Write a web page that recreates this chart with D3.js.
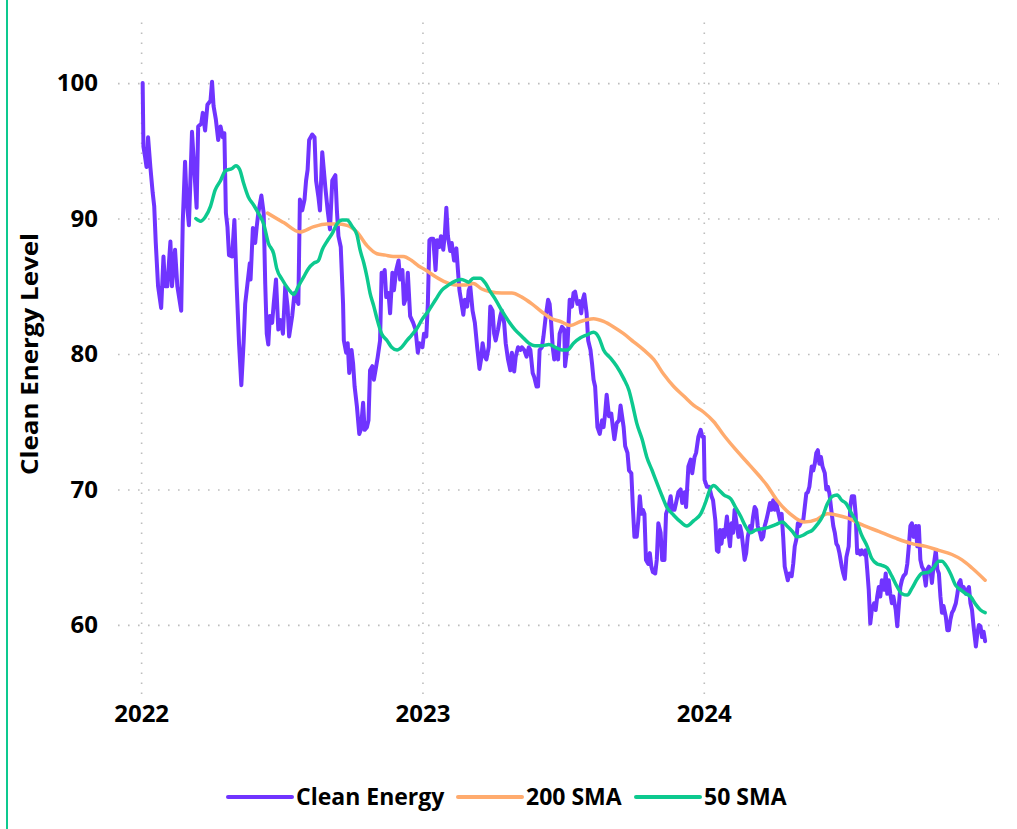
<!DOCTYPE html>
<html>
<head>
<meta charset="utf-8">
<script src="https://cdn.jsdelivr.net/npm/d3@7"></script>
<style>
  html, body { margin: 0; padding: 0; background: #ffffff; }
  svg { display: block; }
  text { font-family: "Open Sans", "Noto Sans", sans-serif; font-weight: 700; fill: #000; }
</style>
</head>
<body>
<svg id="chart" width="1017" height="829"></svg>
<script>
// ---------- DATA ----------
const startDate = "2022-01-01";
const seriesNames = ["Clean Energy", "200 SMA", "50 SMA"];
const yTicks = [60, 70, 80, 90, 100];
const xTickYears = ["2022", "2023", "2024"];
const yAxisTitle = "Clean Energy Level";

// Clean Energy (days since startDate, level)
const cleanDays = [2,3,5,7,9,12,15,17,19,22,26,29,31,34,38,40,44,47,52,54,57,59,62,66,69,72,74,78,80,83,86,90,92,94,97,100,103,106,108,110,112,114,118,121,124,127,130,133,135,138,141,142,145,148,150,152,156,159,161,163,165,167,170,172,175,178,181,184,187,190,192,196,199,202,204,206,209,212,214,216,218,222,225,227,230,232,235,237,239,242,245,248,252,254,256,259,262,263,266,268,270,273,275,277,280,283,285,288,290,293,295,297,300,302,305,307,310,312,314,316,318,321,323,326,328,331,334,336,339,341,344,346,349,353,356,359,361,365,367,370,372,374,376,379,382,384,387,389,392,394,396,398,401,403,406,409,411,413,415,418,420,423,425,427,430,433,436,439,441,443,446,448,451,453,456,458,460,463,466,468,471,473,476,479,481,484,486,489,492,494,497,500,503,505,508,510,513,515,517,520,522,525,528,530,532,534,536,538,541,543,546,549,550,553,556,559,561,563,566,569,571,573,575,578,580,583,585,587,589,592,595,598,600,602,604,607,610,612,614,617,620,622,624,626,628,631,633,636,638,640,643,645,647,649,651,653,655,658,660,662,664,667,669,671,674,676,679,681,684,687,689,692,694,697,700,702,705,707,710,713,715,718,720,723,726,728,730,731,734,737,740,742,745,747,749,751,753,755,757,760,762,764,766,768,770,772,775,777,779,781,783,785,787,790,792,794,796,798,800,803,805,807,809,811,813,816,818,820,822,824,826,829,831,833,835,837,839,841,844,846,848,850,852,854,857,859,861,863,865,867,870,872,874,876,878,880,882,884,887,889,891,893,896,898,900,902,904,906,909,911,913,915,918,920,922,925,927,929,931,933,935,938,940,942,944,946,948,951,953,955,957,959,961,964,966,968,970,972,974,976,979,981,983,985,987,989,992,994,996,998,1000,1002,1005,1007,1009,1011,1013,1015,1018,1020,1022,1024,1026,1028,1031,1033,1035,1037,1039,1041,1044,1046,1048,1050,1052,1054,1057,1059,1061,1063,1065,1067,1070,1072,1074,1076,1078,1080,1083,1085,1087,1089,1091,1093,1095];
const cleanValues = [100.0,95.3,94.6,93.8,96.0,93.8,91.9,90.9,88.2,85.0,83.4,87.2,85.0,85.0,88.3,85.0,87.7,85.0,83.2,89.7,94.2,91.4,89.5,96.4,93.6,90.8,96.8,97.0,97.8,96.5,98.4,98.7,100.1,98.3,97.3,95.8,96.8,96.0,96.3,90.4,89.4,87.3,87.2,89.9,85.0,80.8,77.7,80.9,83.7,85.2,86.7,85.5,89.3,88.2,89.4,90.4,91.7,90.4,85.2,81.5,80.7,82.8,82.3,83.7,85.5,81.8,82.5,81.5,85.0,83.5,81.3,82.8,84.5,84.0,83.7,91.4,90.6,91.4,92.8,93.6,95.8,96.2,96.0,92.8,91.6,90.6,94.9,93.6,92.3,90.6,89.2,92.8,93.2,90.6,88.7,87.9,83.7,81.0,80.1,80.8,78.6,80.3,79.3,77.6,76.1,74.1,74.4,76.4,74.4,74.6,75.1,78.8,79.1,78.1,79.1,79.8,81.0,86.0,85.7,86.2,84.2,84.5,83.0,86.0,84.7,86.2,86.9,85.5,86.2,83.7,84.2,86.0,82.8,82.3,81.8,80.1,80.8,80.5,81.5,81.3,83.7,88.4,88.5,88.5,86.2,88.4,87.9,88.7,87.7,88.8,90.8,88.7,87.6,88.2,86.9,87.8,86.2,84.7,84.0,82.9,84.0,83.5,84.7,85.0,83.2,82.3,80.5,78.9,79.6,80.8,79.8,79.6,80.5,83.5,83.2,81.5,81.0,81.8,82.8,83.2,82.3,80.8,79.6,78.8,80.1,78.7,79.8,80.5,80.3,80.5,80.3,79.8,80.5,80.3,78.6,78.3,77.6,77.6,80.3,80.5,81.3,82.8,84.0,83.7,82.3,80.5,79.6,80.3,79.6,81.5,82.0,81.8,79.1,80.5,84.0,83.5,84.5,84.6,83.7,83.9,83.0,84.0,84.4,83.0,81.0,80.3,79.3,78.1,77.6,74.6,74.1,75.1,74.6,75.6,77.0,75.4,75.6,74.6,73.7,74.9,75.1,76.2,75.4,74.6,73.2,72.7,71.4,71.2,68.7,66.5,66.5,67.7,69.5,68.2,68.5,68.2,64.8,64.5,65.3,64.3,63.9,63.8,64.8,67.5,66.8,64.8,64.8,68.2,68.7,69.5,68.5,68.5,69.0,69.8,70.0,69.0,69.8,68.7,71.7,72.2,71.2,72.4,72.7,73.9,74.4,73.9,73.9,70.7,70.2,70.2,69.5,69.2,67.7,65.5,65.4,67.0,66.0,67.0,66.5,68.0,66.8,65.8,67.5,66.8,68.5,67.7,66.5,67.3,66.8,65.8,64.8,65.3,66.5,67.3,67.0,68.0,68.7,68.5,67.3,66.8,66.3,66.5,67.3,67.7,68.2,69.0,68.5,69.2,68.5,69.0,68.5,67.7,68.2,66.5,64.3,63.8,63.3,63.8,63.6,64.5,65.8,66.3,67.5,67.3,67.7,67.7,68.7,69.7,69.8,70.2,71.7,71.4,71.9,72.7,72.9,71.9,72.4,71.7,71.2,70.0,70.2,69.7,68.2,67.3,66.8,66.0,65.8,65.3,64.3,63.8,63.4,65.0,65.8,68.7,69.5,69.5,68.2,65.3,65.5,65.2,65.5,65.2,65.5,64.1,62.6,60.1,61.1,61.6,61.1,62.1,62.8,62.1,63.3,62.6,63.8,62.3,63.3,62.3,61.6,62.1,61.1,59.9,61.4,62.8,63.3,63.6,63.8,64.5,65.8,67.3,67.5,66.5,67.3,65.8,67.3,64.8,64.3,64.1,62.9,64.1,64.3,64.1,63.1,64.3,65.5,64.1,63.8,62.1,60.9,61.4,60.6,59.6,59.6,60.4,60.9,61.1,61.6,62.3,63.1,63.3,62.6,62.8,62.3,62.6,62.8,61.6,61.1,59.9,58.4,59.4,60.0,59.9,59.1,59.5,58.8];

// 200-day simple moving average
const sma200Days = [164,185,206,224,241,254,267,280,293,306,317,327,340,351,360,369,382,395,408,421,431,442,453,468,481,494,507,520,533,544,557,570,587,600,613,626,639,652,665,678,691,704,717,730,743,756,769,791,812,825,842,860,877,890,903,916,935,957,979,1000,1018,1035,1052,1065,1078,1095];
const sma200Values = [90.4,89.7,89.0,89.4,89.6,89.6,89.5,89.0,88.0,87.4,87.3,87.2,87.2,86.9,86.5,86.2,85.7,85.3,85.1,85.1,85.2,84.8,84.6,84.5,84.5,84.2,83.7,83.1,82.6,82.4,82.1,82.4,82.6,82.4,82.0,81.5,80.9,80.3,79.6,78.5,77.6,76.9,76.2,75.7,75.0,74.0,73.1,71.7,70.3,69.2,68.2,67.6,67.8,68.2,68.1,67.9,67.4,66.9,66.4,66.0,65.8,65.5,65.2,64.8,64.2,63.3];

// 50-day simple moving average
const sma50Days = [71,77,83,90,96,103,109,118,123,128,133,139,146,152,159,165,172,176,183,191,198,204,211,217,224,230,235,241,248,254,261,267,274,280,284,289,293,297,302,306,312,319,325,332,338,345,351,358,364,373,382,390,399,408,416,425,431,440,447,453,460,468,477,485,494,503,511,520,529,537,546,553,561,570,578,587,594,600,609,617,626,633,637,643,650,656,663,669,676,682,691,700,708,717,726,732,738,743,749,756,765,771,778,784,791,797,806,814,823,832,838,845,851,858,864,871,877,884,890,897,903,909,914,922,929,935,942,948,955,961,968,974,981,987,994,1000,1007,1013,1022,1028,1035,1039,1044,1050,1057,1063,1070,1076,1083,1089,1095];
const sma50Values = [90.0,89.8,90.1,90.9,92.1,92.8,93.5,93.7,93.9,93.6,92.6,91.6,91.0,90.4,89.6,88.2,87.4,86.3,85.5,84.8,84.4,85.0,85.7,86.3,86.7,86.9,87.7,88.3,88.9,89.6,89.9,89.9,89.4,88.8,87.7,86.7,85.7,84.5,83.5,82.6,81.5,81.0,80.5,80.3,80.5,81.0,81.4,81.9,82.5,83.2,84.0,84.7,85.1,85.4,85.5,85.3,85.6,85.6,85.2,84.6,84.0,83.2,82.4,81.8,81.3,80.8,80.6,80.6,80.7,80.5,80.3,80.3,80.8,81.2,81.4,81.6,81.2,80.3,79.7,79.1,78.2,77.3,76.4,74.9,73.7,72.4,71.4,70.5,69.5,68.7,68.1,67.6,67.3,67.7,68.2,69.0,70.0,70.3,70.0,69.6,69.3,68.7,68.0,67.3,66.8,67.0,67.1,67.2,67.4,67.6,67.3,66.9,66.5,66.6,66.8,67.0,67.4,68.0,68.9,69.5,69.6,69.2,69.0,68.2,67.5,66.6,65.8,64.9,64.5,64.4,64.2,63.6,62.8,62.3,62.2,62.7,63.4,63.8,63.9,64.2,64.7,64.7,64.4,63.8,62.9,62.6,62.3,62.1,61.5,61.1,60.9];

// ---------- CHART ----------
const colors = { clean: "#7034ff", sma200: "#ffab6e", sma50: "#0dc98f" };
const base = d3.timeParse("%Y-%m-%d")(startDate);
const toDate = n => d3.timeDay.offset(base, n);
const zip = (ds, vs) => ds.map((d, i) => ({ date: toDate(d), value: vs[i] }));

const cleanData = zip(cleanDays, cleanValues);
const sma200Data = zip(sma200Days, sma200Values);
const sma50Data = zip(sma50Days, sma50Values);

const svg = d3.select("#chart");
const plot = { left: 118, right: 999, top: 14, bottom: 694 };

const x = d3.scaleTime()
  .domain([d3.timeParse("%Y-%m-%d")("2021-12-02"), d3.timeParse("%Y-%m-%d")("2025-01-18")])
  .range([plot.left, plot.right]);
const y = d3.scaleLinear().domain([54.9, 105.1]).range([plot.bottom, plot.top]);

// left accent bar
svg.append("line")
  .attr("x1", 7).attr("x2", 7).attr("y1", 0).attr("y2", 829)
  .attr("stroke", colors.sma50).attr("stroke-width", 2);

const gridStyle = g => {
  g.select(".domain").remove();
  g.selectAll(".tick line")
    .attr("stroke", "#bdbdbd").attr("stroke-width", 1.6)
    .attr("stroke-dasharray", "1.6,8.4");
  g.selectAll(".tick text")
    .style("font-family", "'Open Sans', sans-serif")
    .style("font-weight", 700).style("font-size", "24px").attr("fill", "#000");
};

// y axis with grid
svg.append("g")
  .attr("transform", `translate(${plot.left},0)`)
  .call(d3.axisLeft(y).tickValues(yTicks).tickSize(-(plot.right - plot.left)).tickPadding(20).tickFormat(d3.format("d")))
  .call(gridStyle);

// x axis with grid
const xTickDates = xTickYears.map(s => d3.timeParse("%Y")(s));
svg.append("g")
  .attr("transform", `translate(0,${plot.bottom})`)
  .call(d3.axisBottom(x).tickValues(xTickDates).tickSize(-(plot.bottom - plot.top)).tickPadding(11).tickFormat(d3.timeFormat("%Y")))
  .call(gridStyle);

// y axis title
svg.append("text")
  .attr("transform", `translate(38,354) rotate(-90)`)
  .attr("text-anchor", "middle")
  .attr("textLength", 242).attr("lengthAdjust", "spacingAndGlyphs")
  .style("font-size", "24px")
  .text(yAxisTitle);

const line = d3.line().x(d => x(d.date)).y(d => y(d.value));

svg.append("path").datum(cleanData)
  .attr("fill", "none").attr("stroke", colors.clean).attr("stroke-width", 4)
  .attr("stroke-linejoin", "round").attr("stroke-linecap", "round").attr("d", line);
svg.append("path").datum(sma200Data)
  .attr("fill", "none").attr("stroke", colors.sma200).attr("stroke-width", 3.5)
  .attr("stroke-linejoin", "round").attr("stroke-linecap", "round").attr("d", line.curve(d3.curveMonotoneX));
svg.append("path").datum(sma50Data)
  .attr("fill", "none").attr("stroke", colors.sma50).attr("stroke-width", 3.5)
  .attr("stroke-linejoin", "round").attr("stroke-linecap", "round").attr("d", line.curve(d3.curveMonotoneX));

// legend
const legendItems = [
  { name: seriesNames[0], color: colors.clean, x: 228 },
  { name: seriesNames[1], color: colors.sma200, x: 458 },
  { name: seriesNames[2], color: colors.sma50, x: 636 }
];
const lg = svg.append("g").attr("transform", "translate(0,797)");
legendItems.forEach(it => {
  lg.append("line").attr("x1", it.x).attr("x2", it.x + 64).attr("y1", 0).attr("y2", 0)
    .attr("stroke", it.color).attr("stroke-width", 4).attr("stroke-linecap", "round");
  lg.append("text").attr("x", it.x + 68).attr("y", 0).attr("dy", "0.35em")
    .style("font-size", "23px").text(it.name);
});
</script>
</body>
</html>
